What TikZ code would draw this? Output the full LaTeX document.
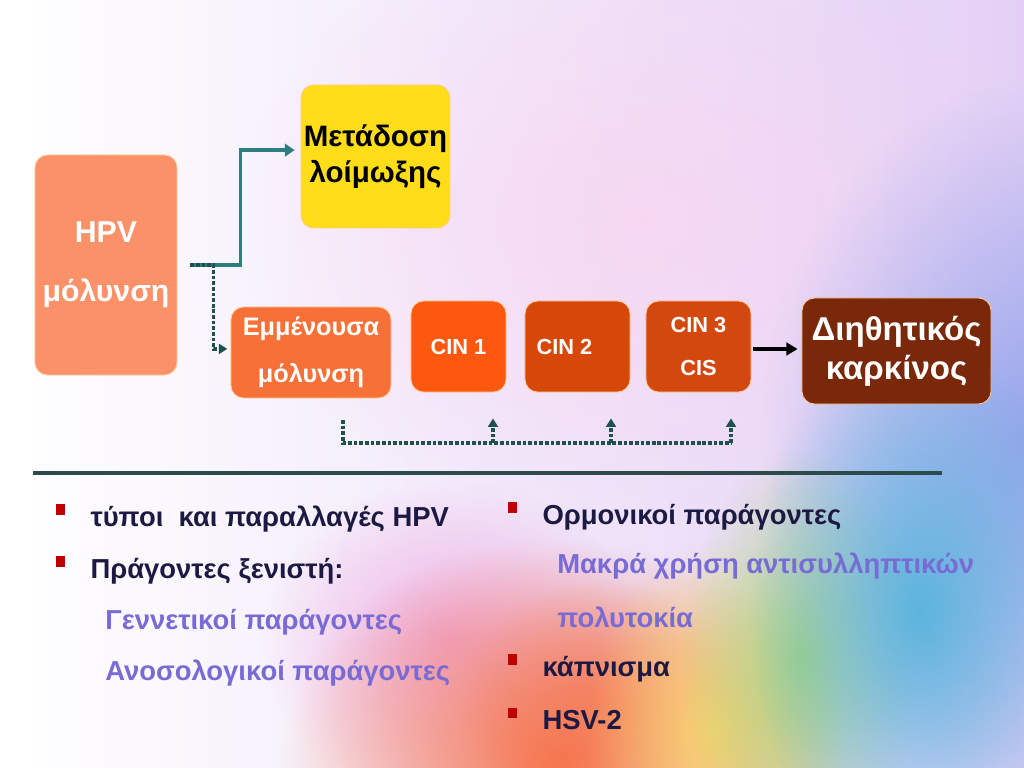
\documentclass[tikz,border=0pt]{standalone}
\usepackage{fontspec}
\setmainfont{Liberation Sans}
\usetikzlibrary{arrows.meta, positioning, calc, fadings}
\definecolor{hpvsalmon}{RGB}{251, 145, 105}
\definecolor{metyellow}{RGB}{255, 221, 25}
\definecolor{emmorange}{RGB}{246, 112, 56}
\definecolor{cinone}{RGB}{252, 88, 16}
\definecolor{cintwo}{RGB}{214, 72, 10}
\definecolor{cinthree}{RGB}{210, 72, 14}
\definecolor{cancerbrown}{RGB}{122, 40, 10}
\definecolor{linkteal}{RGB}{46, 125, 128}
\definecolor{dotteal}{RGB}{30, 80, 78}
\definecolor{rulegray}{RGB}{45, 75, 75}
\definecolor{itemnavy}{RGB}{28, 26, 66}
\definecolor{subpurple}{RGB}{120, 108, 212}
\definecolor{bulletred}{RGB}{192, 0, 0}
\definecolor{bglilac}{RGB}{228, 208, 246}
\definecolor{bgpink}{RGB}{250, 212, 240}
\definecolor{bgblue}{RGB}{140, 160, 235}
\definecolor{bgmagenta}{RGB}{238, 160, 220}
\definecolor{bgorange}{RGB}{246, 118, 78}
\definecolor{bgyellow}{RGB}{250, 212, 110}
\definecolor{bggreen}{RGB}{170, 212, 130}
\definecolor{bgcyan}{RGB}{85, 180, 220}
\tikzfading[name=softspot, inner color=transparent!0, outer color=transparent!100]
\newcommand{\sqbul}{\textcolor{bulletred}{\rule[0.42em]{0.3em}{0.38em}}}

\begin{document}
\begin{tikzpicture}[
  x=0.025cm, y=-0.025cm,
  stage/.style={rounded corners=9pt, draw=orange!40, line width=0.6pt, align=center, inner sep=2pt, font=\bfseries},
  tealarrow/.style={draw=linkteal, line width=2.4pt, -{Triangle[length=7pt, width=9pt]}},
  dotline/.style={draw=dotteal, line width=2.4pt, dash pattern=on 2.6pt off 1.4pt},
  dotarrow/.style={dotline, -{Triangle[length=6pt, width=7pt]}},
  item/.style={anchor=west, font=\bfseries\fontsize{19.5}{22}\selectfont, text=itemnavy, inner sep=0pt},
  subitem/.style={item, text=subpurple}
]
  \useasboundingbox (0,0) rectangle (1024,768);
  % background
  \shade[left color=white, right color=bglilac] (0,0) rectangle (1024,768);
  \fill[bgpink, path fading=softspot, opacity=.7] (640,220) ellipse [x radius=400, y radius=300];
  \fill[bgblue, path fading=softspot, opacity=.9] (1040,440) ellipse [x radius=280, y radius=360];
  \fill[bgmagenta, path fading=softspot, opacity=.8] (450,640) ellipse [x radius=190, y radius=160];
  \fill[bgorange, path fading=softspot] (560,760) ellipse [x radius=280, y radius=220];
  \fill[bgorange, path fading=softspot, opacity=.7] (600,700) ellipse [x radius=140, y radius=120];
  \fill[bgyellow, path fading=softspot] (715,730) ellipse [x radius=130, y radius=190];
  \fill[bggreen, path fading=softspot] (800,660) ellipse [x radius=120, y radius=210];
  \fill[bgcyan, path fading=softspot, opacity=.95] (920,610) ellipse [x radius=170, y radius=280];

  % stages
  \node[stage, fill=hpvsalmon, text=white, minimum width=3.55cm, minimum height=5.5cm,
    font=\bfseries\fontsize{21.5}{42}\selectfont] (hpv) at (106,265) {HPV\\μόλυνση};
  \node[stage, fill=metyellow, text=black, minimum width=3.675cm, minimum height=3.575cm,
    font=\bfseries\fontsize{21}{26}\selectfont] (meta) at (375.5,156.5) {Μετάδοση\\λοίμωξης};
  \node[stage, fill=emmorange, text=white, minimum width=4cm, minimum height=2.275cm,
    font=\bfseries\fontsize{18}{33}\selectfont] (emm) at (311,352.5) {Εμμένουσα\\μόλυνση};
  \node[stage, fill=cinone, text=white, minimum width=2.375cm, minimum height=2.275cm,
    font=\bfseries\fontsize{15.5}{18}\selectfont] (cin1) at (458.5,346.5) {CIN 1};
  \node[stage, fill=cintwo, text=white, minimum width=2.625cm, minimum height=2.275cm,
    font=\bfseries\fontsize{15.5}{18}\selectfont] (cin2) at (577.5,346.5) {CIN 2\hspace{1.2em}};
  \node[stage, fill=cinthree, text=white, minimum width=2.625cm, minimum height=2.275cm,
    font=\bfseries\fontsize{15.5}{30}\selectfont] (cin3) at (698.5,346.5) {CIN 3\\CIS};
  \node[stage, fill=cancerbrown, text=white, minimum width=4.725cm, minimum height=2.65cm,
    font=\bfseries\fontsize{23.5}{28}\selectfont] (cancer) at (896.5,351) {Διηθητικός\\καρκίνος};

  % connectors
  \coordinate (split) at ($(hpv.east)+(13,0)$);
  \draw[tealarrow] (split) -- ++(50,0) |- ([xshift=-0.15cm, yshift=0.16cm]meta.west);
  \draw[dotarrow] (split) -- ++(23,0) |- ([xshift=-0.08cm, yshift=0.09cm]emm.west);
  \coordinate (toinv) at ($(cin3.east)+(2,2.5)$);
  \draw[-{Triangle[length=8pt, width=9pt]}, line width=2.6pt, black] (toinv) -- ([xshift=-0.1cm]cancer.west |- toinv);
  \coordinate (busstart) at (343,420);
  \coordinate (busend) at (731,443);
  \draw[dotline] (busstart) |- (busend);
  \foreach \n/\dx in {cin1/34.5, cin2/33.5, cin3/32.5}
    \draw[dotarrow] ([xshift=\dx*0.025cm]\n.south |- busend) -- ([xshift=\dx*0.025cm, yshift=-0.65cm]\n.south);

  % rule
  \draw[rulegray, line width=3pt] (33,473) -- (942,473);

  % risk factors
  \node[item] (typoi) at (56,518) {\sqbul\hspace{0.95em}τύποι\ \ και παραλλαγές HPV};
  \node[item] (xenist) at (56,570) {\sqbul\hspace{0.95em}Πράγοντες ξενιστή:};
  \node[subitem] (genet) at (105,622) {Γεννετικοί παράγοντες};
  \node[subitem] (anoso) at (105,673) {Ανοσολογικοί παράγοντες};
  \node[item] (ormon) at (508,516) {\sqbul\hspace{0.95em}Ορμονικοί παράγοντες};
  \node[subitem] (makra) at (557,566) {Μακρά χρήση αντισυλληπτικών};
  \node[subitem] (polyt) at (557,617) {πολυτοκία};
  \node[item] (kapn) at (508,668) {\sqbul\hspace{0.95em}κάπνισμα};
  \node[item] (hsv) at (508,719) {\sqbul\hspace{0.95em}HSV-2};
\end{tikzpicture}
\end{document}
